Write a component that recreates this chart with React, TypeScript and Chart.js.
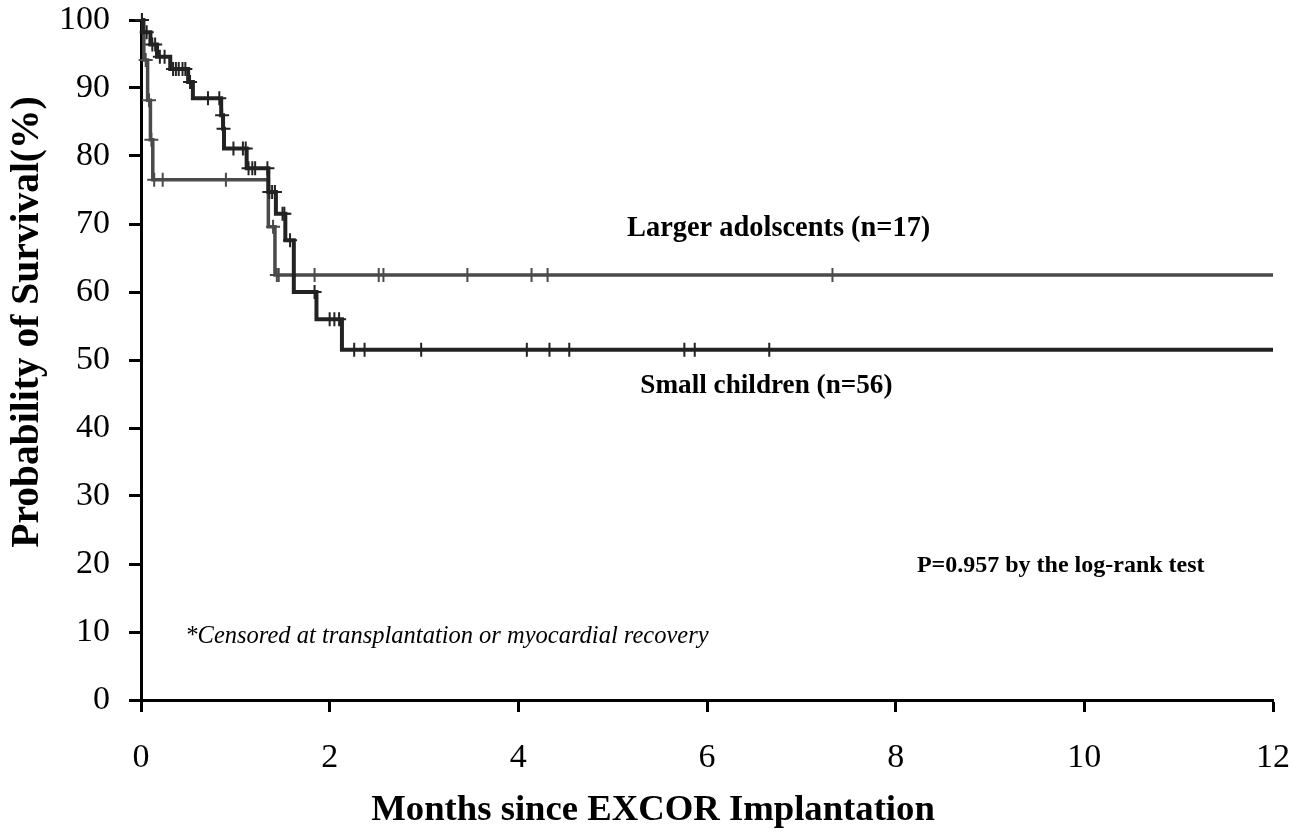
import React, { useEffect, useRef } from "react";
import { Chart, registerables } from "chart.js";

Chart.register(...registerables);

// ---- data ----
const xTickValues = [0, 2, 4, 6, 8, 10, 12];
const yTickValues = [0, 10, 20, 30, 40, 50, 60, 70, 80, 90, 100];

// Small children (n=56): step change times (months) and survival (%)
const smallTimes = [0, 0.02, 0.1, 0.17, 0.31, 0.5, 0.55, 0.85, 0.87, 0.88, 1.12, 1.35, 1.43, 1.53, 1.62, 1.86, 2.13, 12];
const smallSurv = [100, 98.2, 96.4, 94.6, 92.8, 90.9, 88.5, 86.0, 84.0, 81.1, 78.2, 74.7, 71.5, 67.6, 60.0, 56.0, 51.5, 51.5];
const smallCensorTimes = [0.01, 0.06, 0.12, 0.15, 0.2, 0.25, 0.34, 0.37, 0.4, 0.44, 0.47, 0.52, 0.71, 0.83, 0.86, 0.875, 0.98, 1.08, 1.11, 1.14, 1.18, 1.21, 1.34, 1.36, 1.39, 1.42, 1.5, 1.52, 1.58, 1.84, 2.0, 2.05, 2.1, 2.26, 2.37, 2.97, 4.09, 4.33, 4.54, 5.76, 5.87, 6.66];

// Larger adolescents (n=17)
const largeTimes = [0, 0.03, 0.07, 0.1, 0.125, 1.35, 1.42, 12];
const largeSurv = [100, 94.1, 88.2, 82.4, 76.5, 69.6, 62.5, 62.5];
const largeCensorTimes = [0.01, 0.05, 0.085, 0.11, 0.14, 0.23, 0.9, 1.4, 1.44, 1.46, 1.84, 2.52, 2.57, 3.46, 4.14, 4.31, 7.33];

const labelLarge = "Larger adolscents (n=17)";
const labelSmall = "Small children (n=56)";
const labelP = "P=0.957 by the log-rank test";
const labelNote = "*Censored at transplantation or myocardial recovery";
const xTitle = "Months since EXCOR Implantation";
const yTitle = "Probability of Survival(%)";

// annotation anchor positions in data units [month, %]
const posLarge = [6.76, 69.3];
const posSmall = [6.63, 46.2];
const posP = [9.75, 19.8];
const posNote = [0.47, 9.3];

function survAt(times: number[], surv: number[], t: number) {
  let v = surv[0];
  for (let i = 0; i < times.length; i++) {
    if (times[i] <= t) v = surv[i];
  }
  return v;
}

const FONT = "'Liberation Serif', 'Times New Roman', serif";

export default function App() {
  const ref = useRef<HTMLCanvasElement | null>(null);
  useEffect(() => {
    if (!ref.current) return;
    const black = "#222222";
    const gray = "#4a4a4a";
    const textPlugin = {
      id: "texts",
      afterDraw(chart: any) {
        const ctx = chart.ctx;
        const xs = chart.scales.x;
        const ys = chart.scales.y;
        ctx.save();
        ctx.fillStyle = "#000";
        ctx.textBaseline = "middle";
        // y title
        ctx.save();
        ctx.translate(28, 322);
        ctx.rotate(-Math.PI / 2);
        ctx.textAlign = "center";
        ctx.font = `bold 39.5px ${FONT}`;
        ctx.fillText(yTitle, 0, 0);
        ctx.restore();
        // x title
        ctx.textAlign = "center";
        ctx.font = `bold 36.7px ${FONT}`;
        ctx.fillText(xTitle, 653, 811);
        // annotations
        ctx.font = `bold 28.4px ${FONT}`;
        ctx.fillText(labelLarge, xs.getPixelForValue(posLarge[0]), ys.getPixelForValue(posLarge[1]));
        ctx.font = `bold 27.2px ${FONT}`;
        ctx.fillText(labelSmall, xs.getPixelForValue(posSmall[0]), ys.getPixelForValue(posSmall[1]));
        ctx.font = `bold 24px ${FONT}`;
        ctx.fillText(labelP, xs.getPixelForValue(posP[0]), ys.getPixelForValue(posP[1]));
        ctx.textAlign = "left";
        ctx.font = `italic 24.5px ${FONT}`;
        ctx.fillText(labelNote, xs.getPixelForValue(posNote[0]), ys.getPixelForValue(posNote[1]));
        ctx.restore();
      },
    };

    const chart = new Chart(ref.current, {
      type: "scatter",
      data: {
        datasets: [
          {
            label: labelSmall,
            data: smallTimes.map((t, i) => ({ x: t, y: smallSurv[i] })),
            showLine: true,
            stepped: "before",
            borderColor: black,
            borderWidth: 4,
            pointRadius: 0,
            clip: false,
          } as any,
          {
            label: labelSmall + " censored",
            data: smallCensorTimes.map((t) => ({ x: t, y: survAt(smallTimes, smallSurv, t) })),
            showLine: false,
            pointStyle: "cross",
            pointRadius: 7,
            borderColor: black,
            backgroundColor: black,
            pointBorderWidth: 2,
            clip: false,
          } as any,
          {
            label: labelLarge,
            data: largeTimes.map((t, i) => ({ x: t, y: largeSurv[i] })),
            showLine: true,
            stepped: "before",
            borderColor: gray,
            borderWidth: 3.5,
            pointRadius: 0,
            clip: false,
          } as any,
          {
            label: labelLarge + " censored",
            data: largeCensorTimes.map((t) => ({ x: t, y: survAt(largeTimes, largeSurv, t) })),
            showLine: false,
            pointStyle: "cross",
            pointRadius: 7,
            borderColor: gray,
            backgroundColor: gray,
            pointBorderWidth: 2,
            clip: false,
          } as any,
        ],
      },
      options: {
        animation: false,
        responsive: false,
        events: [],
        layout: { padding: { top: 20, right: 34, left: 0, bottom: 0 } },
        plugins: { legend: { display: false }, tooltip: { enabled: false } },
        scales: {
          x: {
            type: "linear",
            min: 0,
            max: 12,
            afterFit: (s: any) => {
              s.height = 839 - 700;
              s.paddingLeft = 0;
              s.paddingRight = 0;
            },
            afterBuildTicks: (s: any) => {
              s.ticks = xTickValues.map((v) => ({ value: v }));
            },
            ticks: {
              color: "#000",
              font: { family: FONT, size: 34 },
              padding: 26,
              maxRotation: 0,
            },
            grid: {
              drawOnChartArea: false,
              drawTicks: true,
              tickLength: 12,
              tickWidth: 3,
              tickColor: "#000",
            },
            border: { display: true, color: "#000", width: 3 },
          },
          y: {
            type: "linear",
            min: 0,
            max: 100,
            afterFit: (s: any) => {
              s.width = 141;
              s.paddingTop = 0;
              s.paddingBottom = 0;
            },
            afterBuildTicks: (s: any) => {
              s.ticks = yTickValues.map((v) => ({ value: v }));
            },
            ticks: {
              color: "#000",
              font: { family: FONT, size: 34 },
              padding: 19,
            },
            grid: {
              drawOnChartArea: false,
              drawTicks: true,
              tickLength: 12,
              tickWidth: 3,
              tickColor: "#000",
            },
            border: { display: true, color: "#000", width: 3 },
          },
        },
      },
      plugins: [textPlugin],
    } as any);
    return () => chart.destroy();
  }, []);

  return (
    <div style={{ position: "absolute", left: 0, top: 0, width: 1307, height: 839, background: "#fff" }}>
      <canvas ref={ref} width={1307} height={839} style={{ width: 1307, height: 839, display: "block" }} />
    </div>
  );
}
